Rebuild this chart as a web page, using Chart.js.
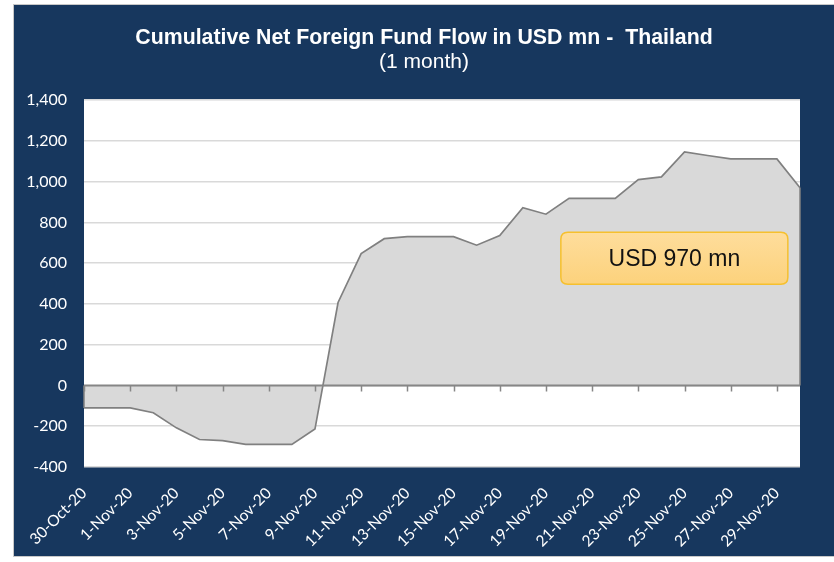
<!DOCTYPE html>
<html>
<head>
<meta charset="utf-8">
<script src="https://cdn.jsdelivr.net/npm/chart.js@4/dist/chart.umd.min.js"></script>
<style>
  html, body { margin: 0; padding: 0; background: #ffffff; }
  #frame { position: absolute; left: 13px; top: 4px; width: 821px; height: 553px;
           background: #17375e; border-left: 1px solid #c8c8c8; border-top: 1px solid #c8c8c8; border-bottom: 1px solid #c8c8c8; box-sizing: border-box; }
  #c { position: absolute; left: 0; top: 0; }
</style>
</head>
<body>
<div id="frame"></div>
<canvas id="c" width="834" height="562"></canvas>
<script>
const titleText = 'Cumulative Net Foreign Fund Flow in USD mn -  Thailand';
const subtitleText = '(1 month)';
const dates = ['30-Oct-20','31-Oct-20','1-Nov-20','2-Nov-20','3-Nov-20','4-Nov-20','5-Nov-20','6-Nov-20',
  '7-Nov-20','8-Nov-20','9-Nov-20','10-Nov-20','11-Nov-20','12-Nov-20','13-Nov-20','14-Nov-20',
  '15-Nov-20','16-Nov-20','17-Nov-20','18-Nov-20','19-Nov-20','20-Nov-20','21-Nov-20','22-Nov-20',
  '23-Nov-20','24-Nov-20','25-Nov-20','26-Nov-20','27-Nov-20','28-Nov-20','29-Nov-20','30-Nov-20'];
const flows = [-110,-110,-110,-134,-208,-265,-271,-289,-289,-289,-214,407,647,720,730,730,
  730,688,735,872,840,918,918,918,1010,1023,1145,1128,1111,1111,1111,970];
const yMin = -400, yMax = 1400, yStep = 200;
const annotationText = 'USD 970 mn';
const annotationAt = { index: 25.56, value: 624 };

const plotBg = {
  id: 'plotBg',
  beforeDraw(chart) {
    const a = chart.chartArea, ctx = chart.ctx;
    ctx.save(); ctx.fillStyle = '#ffffff';
    ctx.fillRect(a.left, a.top, a.right - a.left, a.bottom - a.top);
    ctx.restore();
  }
};

const zeroAxis = {
  id: 'zeroAxis',
  afterDatasetsDraw(chart) {
    const x = chart.scales.x, y = chart.scales.y, ctx = chart.ctx, a = chart.chartArea;
    const y0 = y.getPixelForValue(0);
    ctx.save();
    ctx.strokeStyle = '#808080'; ctx.lineWidth = 1.5;
    const xf = x.getPixelForValue(0), xl = x.getPixelForValue(flows.length - 1);
    ctx.beginPath();
    ctx.moveTo(xf, y0); ctx.lineTo(xf, y.getPixelForValue(flows[0]));
    ctx.moveTo(xl, y0); ctx.lineTo(xl, y.getPixelForValue(flows[flows.length - 1]));
    ctx.stroke();
    ctx.strokeStyle = '#868686'; ctx.lineWidth = 2;
    ctx.beginPath(); ctx.moveTo(a.left, y0); ctx.lineTo(a.right, y0); ctx.stroke();
    ctx.lineWidth = 1.5;
    ctx.beginPath();
    for (let i = 0; i < dates.length; i += 2) {
      const px = Math.round(x.getPixelForValue(i)) + 0.5;
      ctx.moveTo(px, y0); ctx.lineTo(px, y0 + 6);
    }
    ctx.stroke();
    ctx.restore();
  }
};

function roundRect(ctx, x, y, w, h, r) {
  ctx.beginPath();
  ctx.moveTo(x + r, y); ctx.lineTo(x + w - r, y); ctx.quadraticCurveTo(x + w, y, x + w, y + r);
  ctx.lineTo(x + w, y + h - r); ctx.quadraticCurveTo(x + w, y + h, x + w - r, y + h);
  ctx.lineTo(x + r, y + h); ctx.quadraticCurveTo(x, y + h, x, y + h - r);
  ctx.lineTo(x, y + r); ctx.quadraticCurveTo(x, y, x + r, y); ctx.closePath();
}

const annotation = {
  id: 'annotation',
  afterDraw(chart) {
    const ctx = chart.ctx;
    const cx = chart.scales.x.getPixelForValue(annotationAt.index);
    const cy = chart.scales.y.getPixelForValue(annotationAt.value);
    const w = 227, h = 52;
    const x0 = cx - w / 2, y0 = cy - h / 2;
    ctx.save();
    const g = ctx.createLinearGradient(0, y0, 0, y0 + h);
    g.addColorStop(0, '#fedd9c'); g.addColorStop(1, '#fcd27c');
    roundRect(ctx, x0, y0, w, h, 7);
    ctx.fillStyle = g; ctx.fill();
    ctx.strokeStyle = '#f6c02e'; ctx.lineWidth = 1.5; ctx.stroke();
    ctx.fillStyle = '#111111';
    ctx.font = '23px "Liberation Sans", Arial, sans-serif';
    ctx.textAlign = 'center'; ctx.textBaseline = 'middle';
    ctx.fillText(annotationText, cx, cy + 1);
    ctx.restore();
  }
};

new Chart(document.getElementById('c'), {
  type: 'line',
  data: {
    labels: dates,
    datasets: [{
      data: flows,
      borderColor: '#808080',
      borderWidth: 1.7,
      backgroundColor: '#d9d9d9',
      fill: 'origin',
      tension: 0,
      pointRadius: 0,
      yAxisID: 'y'
    }]
  },
  options: {
    responsive: false,
    animation: false,
    devicePixelRatio: 1,
    layout: { padding: { left: 14, right: 0, top: 5, bottom: 5 } },
    plugins: {
      legend: { display: false },
      tooltip: { enabled: false },
      title: {
        display: true, text: titleText, color: '#ffffff',
        font: { family: '"Liberation Sans", Arial, sans-serif', size: 21.3, weight: 'bold', lineHeight: 1.1 },
        padding: { top: 21.3, bottom: 0.45 }
      },
      subtitle: {
        display: true, text: subtitleText, color: '#ffffff',
        font: { family: '"Liberation Sans", Arial, sans-serif', size: 21, weight: 'normal', lineHeight: 1.1 },
        padding: { top: 0.45, bottom: 26.3 }
      }
    },
    scales: {
      x: {
        grid: { display: false },
        border: { display: false },
        ticks: {
          color: '#ffffff', autoSkip: false, maxRotation: 45, minRotation: 45, padding: 9,
          font: { family: 'Lato, "Open Sans", sans-serif', size: 15.5 },
          callback: (v, i) => (i % 2 === 0 ? dates[i] : '')
        },
        afterFit(s) { s.height = 90; }
      },
      y: {
        position: 'left',
        min: yMin, max: yMax,
        grid: { color: '#d9d9d9', lineWidth: 1.5, drawTicks: false },
        border: { display: false },
        ticks: {
          color: '#ffffff', stepSize: yStep, padding: 17,
          font: { family: 'Lato, "Open Sans", sans-serif', size: 16 }
        },
        afterFit(s) { s.width = 70; }
      },
      y2: {
        position: 'right',
        grid: { display: false },
        border: { display: false },
        ticks: { display: false },
        afterFit(s) { s.width = 34; }
      }
    }
  },
  plugins: [plotBg, zeroAxis, annotation]
});
</script>
</body>
</html>
